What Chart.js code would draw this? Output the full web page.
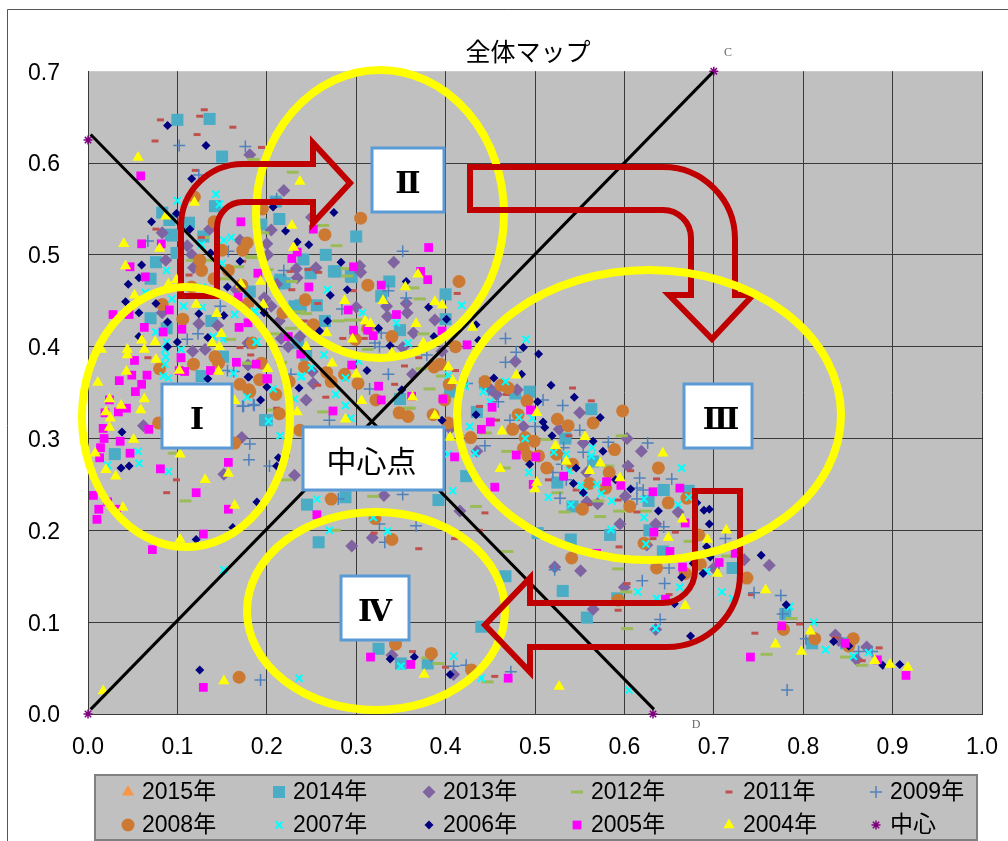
<!DOCTYPE html>
<html>
<head>
<meta charset="utf-8">
<title>全体マップ</title>
<script src="https://cdn.jsdelivr.net/npm/chart.js@4/dist/chart.umd.js"></script>
<style>
    html, body { margin: 0; padding: 0; background: #fff; }
    canvas { display: block; }
</style>
</head>
<body>
<canvas id="mapChart" width="1008" height="841"></canvas>
<script>
const xTicks = [0, 0.1, 0.2, 0.3, 0.4, 0.5, 0.6, 0.7, 0.8, 0.9, 1.0];
const yTicks = [0, 0.1, 0.2, 0.3, 0.4, 0.5, 0.6, 0.7];

// values, [x, y]
const y2015 = [];
const y2014 = [
    [.100,.647],[.136,.648],[.150,.607],[.083,.546],[.091,.538],[.113,.535],[.0925,.522],[.129,.52],[.142,.553],[.21,.558],
    [.214,.539],[.194,.533],[.241,.495],[.266,.50],[.30,.52],[.295,.476],[.277,.482],[.249,.48],[.216,.47],[.337,.471],
    [.328,.455],[.256,.445],[.076,.492],[.07,.474],[.099,.502],[.181,.46],[.231,.444],[.237,.442],[.265,.428],[.349,.418],
    [.40,.457],[.40,.43],[.2,.32],[.349,.343],[.244,.391],[.405,.351],[.214,.469],[.22,.469],[.392,.233],[.423,.259],
    [.435,.329],[.444,.36],[.478,.349],[.494,.351],[.563,.332],[.534,.30],[.565,.275],[.525,.252],[.542,.226],[.627,.232],
    [.644,.244],[.672,.243],[.503,.197],[.54,.19],[.584,.195],[.628,.2],[.643,.177],[.721,.159],[.467,.15],[.531,.134],
    [.558,.105],[.592,.126],[.78,.109],[.81,.077],[.848,.077],[.325,.071],[.35,.055],[.38,.055],[.44,.095],[.258,.187],
    [.03,.283],[.07,.431],[.198,.32],[.245,.228],[.288,.236],[.151,.389],[.127,.368],[.088,.42],[.138,.428],[.235,.404],
    [.095,.521],[.275,.482],[.294,.477],[.215,.473],[.238,.445]
];
const y2013 = [
    [.181,.609],[.219,.57],[.083,.524],[.111,.51],[.087,.494],[.118,.486],[.116,.50],[.136,.528],[.17,.516],[.205,.527],
    [.20,.512],[.201,.5],[.233,.485],[.255,.486],[.234,.475],[.304,.488],[.305,.481],[.342,.492],[.25,.541],[.3,.443],
    [.334,.444],[.211,.468],[.198,.452],[.166,.462],[.335,.433],[.357,.437],[.388,.429],[.364,.415],[.352,.399],[.197,.453],
    [.205,.444],[.214,.428],[.237,.411],[.216,.409],[.224,.40],[.179,.404],[.244,.342],[.251,.373],[.252,.36],[.363,.37],
    [.124,.425],[.145,.423],[.117,.395],[.131,.397],[.083,.437],[.062,.314],[.172,.301],[.152,.261],[.231,.26],[.179,.38],
    [.331,.238],[.318,.192],[.295,.183],[.356,.447],[.478,.384],[.457,.348],[.487,.313],[.435,.286],[.416,.221],[.405,.311],
    [.396,.395],[.48,.353],[.451,.353],[.527,.31],[.554,.295],[.603,.30],[.619,.286],[.604,.27],[.558,.263],[.601,.237],
    [.558,.231],[.57,.229],[.55,.328],[.66,.22],[.635,.207],[.595,.207],[.522,.16],[.551,.156],[.625,.184],[.70,.159],
    [.734,.168],[.762,.162],[.565,.114],[.60,.138],[.635,.092],[.836,.086],[.871,.073],[.86,.059],[.84,.08],[.34,.064],
    [.384,.064],[.409,.043]
];
const y2012 = [
    [.229,.59],[.263,.532],[.278,.51],[.185,.604],[.129,.519],[.168,.487],[.196,.524],[.201,.484],[.228,.471],[.289,.485],
    [.154,.474],[.136,.494],[.183,.497],[.116,.494],[.364,.464],[.371,.452],[.236,.438],[.244,.436],[.28,.428],[.293,.429],
    [.227,.42],[.207,.414],[.375,.414],[.313,.397],[.179,.382],[.216,.383],[.396,.368],[.373,.376],[.382,.354],[.36,.333],
    [.263,.329],[.29,.477],[.182,.498],[.159,.408],[.096,.284],[.222,.255],[.109,.232],[.319,.237],[.276,.2],[.304,.429],
    [.181,.382],[.207,.331],[.434,.226],[.469,.286],[.445,.306],[.469,.177],[.466,.268],[.358,.333],[.597,.303],[.513,.299],
    [.582,.27],[.525,.241],[.571,.232],[.533,.22],[.573,.215],[.594,.221],[.624,.221],[.673,.188],[.593,.158],[.715,.172],
    [.602,.133],[.603,.093],[.447,.035],[.759,.065],[.787,.104],[.848,.062],[.866,.053],[.38,.061],[.392,.055]
];
const y2011 = [
    [.13,.658],[.125,.651],[.081,.647],[.162,.639],[.122,.631],[.075,.624],[.194,.617],[.12,.592],[.076,.528],[.127,.519],
    [.113,.478],[.173,.493],[.226,.482],[.246,.484],[.258,.481],[.228,.462],[.297,.461],[.257,.447],[.413,.458],[.242,.428],
    [.285,.409],[.309,.409],[.182,.391],[.257,.358],[.266,.345],[.354,.379],[.343,.359],[.411,.374],[.211,.333],[.37,.388],
    [.067,.388],[.17,.399],[.099,.255],[.088,.241],[.222,.282],[.31,.419],[.32,.197],[.438,.335],[.444,.219],[.438,.2],
    [.41,.191],[.37,.18],[.468,.348],[.457,.32],[.542,.355],[.563,.341],[.538,.303],[.607,.265],[.636,.256],[.515,.255],
    [.546,.244],[.593,.233],[.614,.22],[.56,.228],[.632,.191],[.657,.198],[.594,.182],[.603,.142],[.65,.13],[.593,.113],
    [.742,.13],[.746,.088],[.796,.098],[.885,.072],[.866,.058],[.836,.083],[.455,.041],[.363,.068],[.40,.051]
];
const y2009 = [
    [.102,.619],[.176,.618],[.067,.515],[.124,.587],[.211,.561],[.352,.504],[.219,.483],[.336,.461],[.356,.453],[.157,.504],
    [.148,.444],[.284,.441],[.328,.415],[.321,.404],[.326,.4],[.227,.37],[.336,.37],[.315,.354],[.185,.337],[.173,.335],
    [.27,.32],[.379,.391],[.424,.36],[.123,.414],[.111,.408],[.156,.374],[.163,.373],[.174,.335],[.186,.336],[.181,.294],
    [.18,.277],[.203,.27],[.352,.239],[.326,.207],[.332,.187],[.28,.234],[.367,.205],[.444,.292],[.467,.409],[.467,.383],
    [.479,.394],[.448,.353],[.459,.34],[.472,.32],[.50,.313],[.509,.342],[.531,.336],[.55,.309],[.532,.29],[.554,.285],
    [.582,.296],[.626,.295],[.53,.272],[.52,.263],[.535,.255],[.528,.235],[.617,.257],[.653,.256],[.614,.246],[.621,.244],
    [.614,.234],[.644,.204],[.713,.191],[.522,.157],[.65,.159],[.62,.145],[.645,.142],[.64,.103],[.745,.132],[.775,.129],
    [.777,.109],[.803,.082],[.782,.026],[.862,.068],[.877,.068],[.473,.046],[.193,.037],[.409,.052],[.423,.053]
];
const y2008 = [
    [.305,.54],[.265,.522],[.119,.563],[.195,.55],[.141,.536],[.178,.513],[.173,.505],[.15,.505],[.125,.494],[.127,.483],
    [.141,.474],[.157,.483],[.116,.465],[.172,.467],[.313,.467],[.243,.451],[.179,.447],[.083,.446],[.415,.471],[.218,.437],
    [.252,.424],[.34,.411],[.299,.408],[.313,.42],[.411,.4],[.394,.381],[.387,.378],[.242,.378],[.267,.372],[.272,.362],
    [.287,.37],[.302,.36],[.194,.382],[.192,.364],[.18,.353],[.21,.348],[.184,.404],[.214,.327],[.322,.342],[.348,.328],
    [.358,.324],[.386,.326],[.399,.342],[.106,.43],[.118,.381],[.08,.376],[.079,.317],[.142,.389],[.146,.382],[.17,.359],
    [.181,.351],[.164,.295],[.237,.309],[.272,.234],[.34,.19],[.321,.213],[.225,.362],[.404,.359],[.444,.362],[.462,.358],
    [.47,.355],[.491,.341],[.481,.326],[.475,.31],[.428,.301],[.489,.301],[.499,.297],[.487,.289],[.492,.281],[.504,.281],
    [.513,.268],[.524,.283],[.525,.321],[.537,.314],[.565,.317],[.589,.288],[.542,.272],[.583,.263],[.561,.251],[.579,.246],
    [.606,.226],[.553,.223],[.598,.33],[.638,.268],[.649,.23],[.67,.235],[.622,.186],[.541,.17],[.636,.159],[.668,.153],
    [.685,.163],[.683,.195],[.737,.148],[.593,.124],[.778,.092],[.813,.082],[.856,.082],[.851,.074],[.169,.04],[.344,.076],
    [.384,.066],[.429,.048],[.403,.317]
];
const y2007 = [
    [.1,.559],[.143,.566],[.147,.555],[.152,.516],[.16,.519],[.088,.483],[.128,.465],[.064,.459],[.094,.452],[.268,.462],
    [.15,.491],[.127,.511],[.107,.444],[.128,.443],[.186,.439],[.307,.437],[.345,.426],[.358,.404],[.418,.445],[.189,.405],
    [.264,.391],[.25,.377],[.238,.367],[.288,.366],[.277,.348],[.288,.336],[.294,.322],[.207,.354],[.231,.343],[.178,.345],
    [.202,.319],[.403,.369],[.303,.384],[.076,.416],[.088,.405],[.086,.397],[.087,.389],[.086,.381],[.104,.397],[.084,.368],
    [.09,.366],[.14,.411],[.151,.408],[.188,.405],[.164,.435],[.187,.438],[.163,.371],[.215,.303],[.056,.286],[.057,.273],
    [.022,.271],[.09,.264],[.239,.368],[.256,.234],[.319,.214],[.335,.199],[.27,.2],[.422,.357],[.442,.351],[.427,.313],
    [.403,.283],[.433,.284],[.408,.243],[.467,.362],[.482,.323],[.489,.3],[.497,.322],[.493,.263],[.49,.408],[.45,.34],
    [.521,.285],[.535,.283],[.538,.265],[.564,.29],[.563,.281],[.551,.249],[.569,.25],[.574,.24],[.554,.242],[.515,.236],
    [.54,.228],[.586,.232],[.622,.234],[.664,.268],[.66,.228],[.672,.236],[.622,.214],[.585,.201],[.624,.185],[.692,.155],
    [.662,.138],[.615,.133],[.709,.133],[.721,.126],[.635,.093],[.785,.117],[.812,.1],[.825,.07],[.856,.063],[.873,.067],
    [.605,.026],[.44,.039],[.636,.126],[.152,.157],[.236,.039],[.35,.052],[.409,.063]
];
const y2006 = [
    [.089,.641],[.132,.619],[.116,.583],[.071,.536],[.114,.528],[.207,.552],[.221,.526],[.234,.514],[.247,.511],[.275,.546],
    [.06,.489],[.057,.475],[.045,.468],[.042,.449],[.076,.447],[.137,.502],[.17,.493],[.156,.465],[.283,.492],[.29,.462],
    [.271,.456],[.356,.471],[.099,.545],[.381,.443],[.401,.43],[.325,.42],[.268,.428],[.259,.417],[.197,.437],[.387,.411],
    [.338,.401],[.434,.424],[.312,.374],[.179,.367],[.2,.356],[.236,.355],[.193,.342],[.396,.32],[.351,.353],[.057,.437],
    [.089,.427],[.124,.436],[.152,.434],[.057,.411],[.1,.405],[.089,.4],[.134,.41],[.134,.365],[.18,.367],[.038,.307],
    [.037,.268],[.046,.27],[.213,.279],[.211,.27],[.189,.231],[.162,.203],[.121,.19],[.454,.366],[.485,.37],[.437,.407],
    [.487,.399],[.504,.392],[.518,.358],[.503,.34],[.434,.326],[.544,.345],[.573,.323],[.509,.318],[.511,.312],[.519,.303],
    [.565,.297],[.576,.286],[.494,.272],[.546,.268],[.543,.251],[.554,.241],[.59,.255],[.607,.245],[.638,.221],[.689,.222],
    [.695,.223],[.695,.207],[.692,.182],[.753,.173],[.677,.164],[.688,.153],[.664,.149],[.681,.23],[.696,.171],[.656,.12],
    [.674,.085],[.781,.119],[.834,.079],[.851,.074],[.889,.053],[.908,.054],[.125,.048],[.338,.06],[.365,.062],[.405,.043]
];
const y2005 = [
    [.059,.586],[.06,.512],[.082,.512],[.047,.487],[.064,.476],[.171,.536],[.252,.528],[.234,.503],[.228,.496],[.19,.48],
    [.247,.465],[.297,.487],[.328,.467],[.291,.44],[.168,.454],[.091,.44],[.381,.508],[.372,.482],[.38,.473],[.345,.435],
    [.179,.426],[.169,.421],[.224,.411],[.297,.418],[.238,.392],[.313,.418],[.319,.412],[.396,.417],[.424,.402],[.188,.381],
    [.295,.38],[.2,.365],[.325,.357],[.328,.342],[.362,.346],[.397,.343],[.274,.33],[.028,.435],[.046,.435],[.063,.421],
    [.105,.419],[.084,.416],[.052,.385],[.104,.388],[.166,.383],[.137,.374],[.049,.369],[.066,.369],[.035,.363],[.06,.359],
    [.053,.351],[.024,.342],[.043,.333],[.034,.329],[.019,.328],[.017,.311],[.068,.31],[.018,.3],[.036,.297],[.014,.29],
    [.047,.284],[.013,.279],[.081,.267],[.157,.274],[.121,.241],[.006,.238],[.022,.231],[.012,.223],[.032,.223],[.01,.212],
    [.157,.223],[.129,.196],[.201,.365],[.256,.217],[.072,.179],[.102,.374],[.108,.373],[.452,.334],[.45,.318],[.44,.31],
    [.41,.28],[.455,.247],[.495,.331],[.479,.282],[.501,.28],[.532,.259],[.498,.25],[.58,.253],[.596,.249],[.632,.242],
    [.662,.246],[.668,.208],[.633,.198],[.651,.177],[.569,.175],[.665,.16],[.706,.165],[.724,.175],[.646,.125],[.776,.096],
    [.741,.062],[.847,.077],[.883,.059],[.915,.042],[.47,.039],[.129,.029],[.316,.062],[.361,.054]
];
const y2004 = [
    [.056,.606],[.04,.512],[.08,.507],[.042,.488],[.087,.542],[.119,.557],[.237,.58],[.228,.532],[.23,.508],[.193,.471],
    [.09,.468],[.052,.456],[.099,.473],[.121,.446],[.171,.468],[.287,.45],[.33,.45],[.355,.465],[.369,.479],[.388,.449],
    [.396,.445],[.196,.446],[.31,.428],[.316,.425],[.367,.425],[.267,.415],[.296,.408],[.244,.4],[.34,.393],[.375,.404],
    [.43,.421],[.273,.382],[.403,.378],[.201,.376],[.3,.37],[.408,.363],[.306,.341],[.234,.329],[.363,.345],[.388,.325],
    [.288,.321],[.015,.397],[.044,.397],[.044,.391],[.06,.407],[.075,.405],[.063,.397],[.076,.386],[.043,.373],[.011,.361],
    [.024,.343],[.063,.343],[.059,.331],[.037,.336],[.02,.329],[.025,.322],[.024,.312],[.051,.299],[.008,.284],[.02,.266],
    [.031,.259],[.103,.283],[.102,.374],[.131,.255],[.157,.262],[.164,.227],[.039,.225],[.103,.19],[.144,.436],[.149,.414],
    [.139,.404],[.147,.4],[.164,.341],[.146,.373],[.479,.369],[.463,.308],[.405,.301],[.461,.267],[.5,.245],[.502,.328],
    [.502,.252],[.556,.302],[.523,.292],[.535,.275],[.573,.273],[.561,.265],[.595,.257],[.643,.284],[.665,.212],[.649,.192],
    [.693,.19],[.714,.2],[.704,.153],[.668,.118],[.758,.135],[.808,.09],[.769,.076],[.798,.068],[.88,.058],[.897,.054],
    [.917,.051],[.527,.03],[.017,.025],[.152,.036],[.376,.043]
];
const centers = [[0, .625], [.7, .7], [0, 0], [.632, 0]];
const lineDown = [[.003, .631], [.633, .005]];
const lineUp = [[.003, .005], [.699, .699]];

const legendNames = ['2015年', '2014年', '2013年', '2012年', '2011年', '2009年', '2008年', '2007年', '2006年', '2005年', '2004年', '中心'];
const seriesValues = [y2015, y2014, y2013, y2012, y2011, y2009, y2008, y2007, y2006, y2005, y2004, centers];
const seriesColors = ['#F79646', '#4BACC6', '#8064A2', '#9BBB59', '#C0504D', '#4F81BD', '#CC7A33', '#00FFFF', '#000080', '#FF00FF', '#FFFF00', '#800080'];
const seriesStyles = ['triangle', 'rect', 'rectRot', 'line', 'line', 'cross', 'circle', 'crossRot', 'rectRot', 'rect', 'triangle', 'star'];
const seriesRadius = [7, 8.5, 6.5, 6, 3.5, 6, 6.5, 5, 4.5, 6.2, 6.5, 4.5];
const seriesBorder = [0, 0, 0, 3, 3, 1.5, 0, 2, 0, 0, 0, 1.5];

const FONT = "'Liberation Sans','Noto Sans CJK JP',sans-serif";

function toPoints(pairs) {
    return pairs.map(p => ({ x: p[0], y: p[1] }));
}

const datasets = legendNames.map((name, i) => ({
    label: name,
    data: toPoints(seriesValues[i]),
    pointStyle: seriesStyles[i],
    pointRadius: seriesRadius[i],
    backgroundColor: seriesColors[i],
    borderColor: seriesColors[i],
    borderWidth: seriesBorder[i],
    showLine: false,
    clip: false,
    order: 20 - i
}));

[lineDown, lineUp].forEach((line, i) => {
    datasets.push({
        label: i ? '対角線2' : '対角線1',
        data: toPoints(line),
        showLine: true,
        pointRadius: 0,
        borderColor: '#000',
        borderWidth: 3,
        clip: false,
        order: 1
    });
});

function ellipse(ctx, cx, cy, rx, ry) {
    ctx.beginPath();
    ctx.ellipse(cx, cy, rx, ry, 0, 0, Math.PI * 2);
    ctx.lineWidth = 8;
    ctx.strokeStyle = '#FFFF00';
    ctx.stroke();
}

function labelBox(ctx, x1, y1, x2, y2, text, font, dx, dy) {
    ctx.fillStyle = '#fff';
    ctx.fillRect(x1, y1, x2 - x1, y2 - y1);
    ctx.lineWidth = 3;
    ctx.strokeStyle = '#5B9BD5';
    ctx.strokeRect(x1, y1, x2 - x1, y2 - y1);
    ctx.fillStyle = '#000';
    ctx.font = font;
    ctx.textAlign = 'center';
    ctx.textBaseline = 'middle';
    ctx.fillText(text, (x1 + x2) / 2 + dx, (y1 + y2) / 2 + dy);
}

function arrowRight(ctx) {
    ctx.beginPath();
    ctx.moveTo(181, 296);
    ctx.lineTo(181, 226);
    ctx.arcTo(181, 164, 243, 164, 62);
    ctx.lineTo(313, 164);
    ctx.lineTo(313, 143);
    ctx.lineTo(350, 183);
    ctx.lineTo(313, 223);
    ctx.lineTo(313, 202);
    ctx.lineTo(243, 202);
    ctx.arcTo(217, 202, 217, 228, 26);
    ctx.lineTo(217, 296);
    ctx.closePath();
}

function arrowDown(ctx) {
    ctx.beginPath();
    ctx.moveTo(470, 167);
    ctx.lineTo(663, 167);
    ctx.arcTo(735, 167, 735, 239, 72);
    ctx.lineTo(735, 295);
    ctx.lineTo(753, 295);
    ctx.lineTo(712, 339);
    ctx.lineTo(669, 295);
    ctx.lineTo(691, 295);
    ctx.lineTo(691, 238);
    ctx.arcTo(691, 210, 663, 210, 28);
    ctx.lineTo(470, 210);
    ctx.closePath();
}

function arrowLeft(ctx) {
    ctx.beginPath();
    ctx.moveTo(695, 491);
    ctx.lineTo(740, 491);
    ctx.lineTo(740, 574);
    ctx.arcTo(740, 647, 667, 647, 73);
    ctx.lineTo(530, 647);
    ctx.lineTo(530, 672);
    ctx.lineTo(485, 625);
    ctx.lineTo(530, 578);
    ctx.lineTo(530, 603);
    ctx.lineTo(662, 603);
    ctx.arcTo(695, 603, 695, 570, 33);
    ctx.closePath();
}

const mapOverlay = {
    id: 'mapOverlay',
    afterLayout(chart) {
        // title sits a little left of the plot centre
        const t = chart.titleBlock;
        t.left = 74;
        t.right = 982;
        t.top = 39;
    },
    beforeDraw(chart) {
        const ctx = chart.ctx;
        const a = chart.chartArea;
        ctx.save();
        ctx.strokeStyle = '#555';
        ctx.lineWidth = 1;
        ctx.beginPath();
        ctx.moveTo(7.5, 841);
        ctx.lineTo(7.5, 9.5);
        ctx.lineTo(1008, 9.5);
        ctx.stroke();
        ctx.fillStyle = '#C0C0C0';
        ctx.fillRect(a.left, a.top, a.right - a.left, a.bottom - a.top);
        ctx.restore();
    },
    afterDraw(chart) {
        const ctx = chart.ctx;
        ctx.save();

        ctx.fillStyle = '#666';
        ctx.font = "12px 'Liberation Serif',serif";
        ctx.textAlign = 'center';
        ctx.textBaseline = 'middle';
        ctx.fillText('C', 728, 53);
        ctx.fillText('D', 696, 725);

        ellipse(ctx, 380, 214, 124, 144);
        ellipse(ctx, 376, 611, 129, 99);

        ctx.strokeStyle = '#C00000';
        ctx.lineWidth = 6;
        ctx.lineJoin = 'miter';
        [arrowRight, arrowDown, arrowLeft].forEach(draw => {
            draw(ctx);
            ctx.stroke();
        });

        ellipse(ctx, 186, 417, 104, 130);
        ellipse(ctx, 649, 415, 192, 145);

        const roman = "bold 30px 'DejaVu Serif',serif";
        labelBox(ctx, 372, 148, 444, 212, 'Ⅱ', roman, 0, 5);
        labelBox(ctx, 162, 384, 232, 448, 'Ⅰ', roman, 0, 5);
        labelBox(ctx, 684, 384, 752, 448, 'Ⅲ', roman, 3, 5);
        labelBox(ctx, 341, 576, 409, 640, 'Ⅳ', roman, 0, 5);
        labelBox(ctx, 303, 427, 444, 490, '中心点', "30px 'Noto Sans CJK JP',sans-serif", -2, 2);

        // legend panel
        ctx.fillStyle = '#C0C0C0';
        ctx.fillRect(95, 775, 882, 65);
        ctx.strokeStyle = '#808080';
        ctx.lineWidth = 2;
        ctx.strokeRect(95, 775, 882, 65);
        const columns = [128, 279, 429, 577, 729, 876];
        const rows = [792, 825];
        legendNames.forEach((name, i) => {
            const col = i % 6;
            const row = Math.floor(i / 6);
            ctx.fillStyle = seriesColors[i];
            ctx.strokeStyle = seriesColors[i];
            ctx.lineWidth = seriesBorder[i];
            Chart.helpers.drawPoint(ctx, {
                pointStyle: seriesStyles[i],
                rotation: 0,
                radius: seriesRadius[i],
                borderWidth: seriesBorder[i]
            }, columns[col], rows[row]);
            ctx.fillStyle = '#000';
            ctx.font = '23px ' + FONT;
            ctx.textAlign = 'left';
            ctx.textBaseline = 'middle';
            ctx.fillText(name, columns[col] + 14, rows[row] + 1);
        });
        ctx.restore();
    }
};

new Chart(document.getElementById('mapChart').getContext('2d'), {
    type: 'scatter',
    data: { datasets },
    options: {
        responsive: false,
        animation: false,
        layout: { padding: { top: 41.2, right: 26, bottom: 0, left: 0 } },
        plugins: {
            legend: { display: false },
            tooltip: { enabled: false },
            title: {
                display: true,
                text: '全体マップ',
                color: '#000',
                padding: 0,
                font: { family: FONT, size: 25, weight: 'normal' }
            }
        },
        scales: {
            x: {
                type: 'linear',
                min: 0,
                max: 1,
                afterBuildTicks: axis => { axis.ticks = xTicks.map(v => ({ value: v })); },
                afterFit: axis => {
                    axis.height = 127;
                    // tick padding would otherwise eat into the plot width
                    axis.paddingLeft = 0;
                    axis.paddingRight = 0;
                },
                ticks: {
                    color: '#000',
                    padding: 20,
                    maxRotation: 0,
                    font: { family: FONT, size: 23 },
                    callback: v => Number(v).toFixed(1)
                },
                grid: { color: '#3a3a3a', lineWidth: 1, drawTicks: false },
                border: { color: '#3a3a3a' }
            },
            y: {
                type: 'linear',
                min: 0,
                max: 0.7,
                afterBuildTicks: axis => { axis.ticks = yTicks.map(v => ({ value: v })); },
                afterFit: axis => { axis.width = 88; },
                ticks: {
                    color: '#000',
                    padding: 28,
                    labelOffset: 2,
                    font: { family: FONT, size: 23 },
                    callback: v => Number(v).toFixed(1)
                },
                grid: {
                    color: ctx => ctx.tick && ctx.tick.value === 0.7 ? 'rgba(0,0,0,0)' : '#3a3a3a',
                    lineWidth: 1,
                    drawTicks: false
                },
                border: { color: '#3a3a3a' }
            }
        }
    },
    plugins: [mapOverlay]
});
</script>
</body>
</html>
